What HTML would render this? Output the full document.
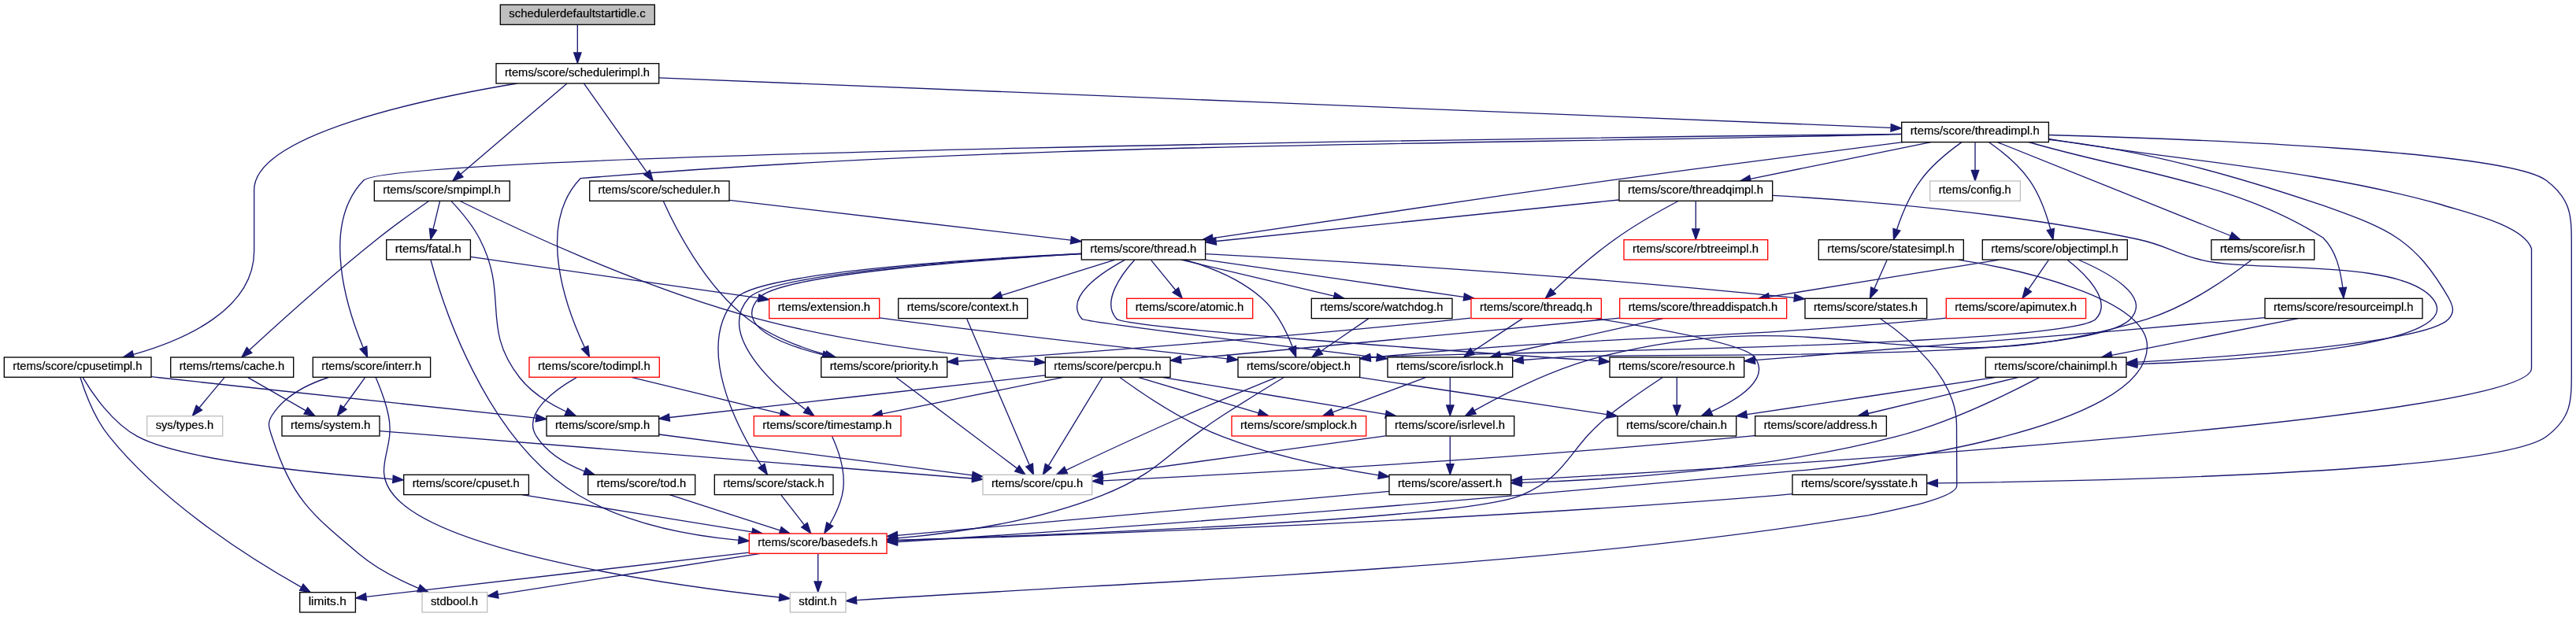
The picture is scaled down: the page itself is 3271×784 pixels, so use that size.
<!DOCTYPE html>
<html><head><meta charset="utf-8"><title>schedulerdefaultstartidle.c include graph</title>
<style>html,body{margin:0;padding:0;background:#fff}svg{display:block;will-change:transform}text{font-family:"Liberation Sans",sans-serif;font-size:13.8px;text-anchor:middle;fill:#000;stroke:#000;stroke-width:0.2px}.e path{fill:none;stroke:#191970;stroke-width:1.3333}.e polygon{fill:#191970;stroke:#191970;stroke-width:1.3333}.n rect{stroke-width:1.3333}</style></head>
<body>
<svg width="3271" height="784" viewBox="0 0 3271 784">
<rect x="0" y="0" width="3271" height="784" fill="#fff"/>
<g class="e">
<path d="M733.3,31.9C733.3,41.3 733.3,54.9 733.3,66.7"/><polygon points="738,67 733.3,80.3 728.7,67 738,67"/>
<path d="M741.5,106.2C758.7,130.4 798.8,186.9 821.3,218.7"/><polygon points="825.3,216.3 829.2,229.9 817.7,221.7 825.3,216.3"/>
<path d="M656.6,106C537.7,125.8 322.7,171.2 322.7,241.3 322.7,241.3 322.7,241.3 322.7,318.7 322.7,393 235.2,431.7 169.6,450.3"/><polygon points="170.4,454.9 156.3,453.9 168,445.9 170.4,454.9"/>
<path d="M719.8,106.2C690.7,131 621.6,190 585,221.2"/><polygon points="587.9,224.8 574.8,229.9 581.9,217.7 587.9,224.8"/>
<path d="M837,98.9C1150.1,111.6 2083.2,149.4 2400.8,162.3"/><polygon points="2401.3,157.7 2414.5,162.9 2400.9,167 2401.3,157.7"/>
<path d="M842.3,255.6C855.4,285.1 893.9,363.1 949.7,405.3 978.4,427.1 1015.6,441.3 1048.2,450.5"/><polygon points="1049.5,446 1061.2,453.9 1047.2,455 1049.5,446"/>
<path d="M926.1,254.4C1041.5,267.9 1242.3,291.4 1359.5,305.2"/><polygon points="1360.4,300.6 1373.1,306.8 1359.3,309.8 1360.4,300.6"/>
<path d="M1137.9,479.5C1171.1,504.5 1249.8,563.8 1291.1,594.9"/><polygon points="1294.3,591.5 1302.1,603.2 1288.7,598.9 1294.3,591.5"/>
<path d="M1373.1,322.7C1241.9,330.3 990.3,348.6 963.5,378.7 932.1,413.7 990.4,437.2 1045,450.8"/><polygon points="1046,446.3 1057.9,453.9 1043.9,455.4 1046,446.3"/>
<path d="M1461.7,330.6C1470.1,340.8 1482.4,356 1492.6,368.5"/><polygon points="1496.4,365.7 1501.2,379 1489.1,371.6 1496.4,365.7"/>
<path d="M1415.7,330.1C1376.7,342.3 1314.8,361.7 1271.6,375.3"/><polygon points="1273,379.8 1258.8,379.3 1270.2,370.9 1273,379.8"/>
<path d="M1428.6,330.1C1397.9,346.7 1350.3,378.2 1373.9,405.3 1376.9,408.8 1612.5,437.8 1748,454.1"/><polygon points="1748.9,449.5 1761.5,455.8 1747.7,458.8 1748.9,449.5"/>
<path d="M1504.4,330.1C1535.7,339 1574.6,354.2 1602.1,378.7 1620.9,395.3 1633.7,421.3 1641.1,440.5"/><polygon points="1645.5,439.5 1645.7,453.6 1636.7,442.7 1645.5,439.5"/>
<path d="M1440.7,330.2C1424.3,348.3 1398,383.5 1417.9,405.3 1428,416.5 1837.3,445.6 2030.4,458.7"/><polygon points="2030.9,454.1 2043.9,459.6 2030.3,463.4 2030.9,454.1"/>
<path d="M1372.8,322.1C1235.1,329 963.3,346.6 934.7,378.7 880.3,439.7 937,545.3 966.8,591.7"/><polygon points="970.9,589.4 974.4,603.1 963.1,594.6 970.9,589.4"/>
<path d="M1531.1,322.7C1676.5,330.5 1996.5,349.4 2278.4,378.4"/><polygon points="2278.9,373.8 2291.6,379.8 2277.9,383.1 2278.9,373.8"/>
<path d="M1531,330.1C1620,342.9 1764.5,363.8 1858.5,377.4"/><polygon points="1859.5,372.8 1872,379.3 1858.2,382 1859.5,372.8"/>
<path d="M1500,330.1C1552.4,342.6 1636.7,362.6 1693.7,376.2"/><polygon points="1695,371.7 1706.9,379.3 1692.9,380.8 1695,371.7"/>
<path d="M1373.1,322.5C1239,329.7 978.2,347.7 950.7,378.7 910.1,424.4 980.9,488.6 1022.9,520.5"/><polygon points="1025.9,516.9 1033.9,528.5 1020.4,524.4 1025.9,516.9"/>
<path d="M1227.7,405.2C1242.7,440.2 1286.8,543.3 1307,590.5"/><polygon points="1311.4,589.1 1312.4,603.2 1302.8,592.9 1311.4,589.1"/>
<path d="M1841.3,479.9C1841.3,489.3 1841.3,502.9 1841.3,514.7"/><polygon points="1846,515 1841.3,528.3 1836.7,515 1846,515"/>
<path d="M1810.9,479.4C1778.9,491.4 1728.2,510.4 1692.2,523.9"/><polygon points="1693.7,528.3 1679.6,528.6 1690.5,519.6 1693.7,528.3"/>
<path d="M1759.5,553.9C1661.6,567.4 1498.7,589.7 1400.4,603.3"/><polygon points="1400.8,607.9 1386.9,605.1 1399.5,598.7 1400.8,607.9"/>
<path d="M1841.3,554.6C1841.3,564 1841.3,577.5 1841.3,589.3"/><polygon points="1846,589.7 1841.3,603 1836.7,589.7 1846,589.7"/>
<path d="M1764,624.3C1618,637.4 1301.9,665.7 1139.5,680.3"/><polygon points="1140,684.9 1126.3,681.5 1139.2,675.6 1140,684.9"/>
<path d="M965.6,703.4C873.1,717.8 715.9,742.4 632.7,755.3"/><polygon points="633,760 619.1,757.5 631.5,750.8 633,760"/>
<path d="M1038.7,703.9C1038.7,713.3 1038.7,726.9 1038.7,738.7"/><polygon points="1043.3,739 1038.7,752.3 1034,739 1043.3,739"/>
<path d="M950.8,702.2C817.8,717.5 569.9,746.2 464.9,758.3"/><polygon points="465.5,763 451.7,759.9 464.4,753.7 465.5,763"/>
<path d="M1621.1,479.4C1591.9,491.3 1545.3,510.5 1505.3,528 1452.3,551.2 1391.6,579.5 1353.9,597.3"/><polygon points="1355.6,601.7 1341.5,603.2 1351.6,593.2 1355.6,601.7"/>
<path d="M1630.3,479.5C1610.6,491.5 1579.2,510.8 1552.4,528 1483.8,572 1475.5,599.5 1399.6,629.3 1315.7,662.4 1213.7,677.2 1139.5,683.9"/><polygon points="1139.7,688.6 1126.1,685.1 1138.9,679.3 1139.7,688.6"/>
<path d="M1725.4,479.4C1810.9,492.2 1949.5,513 2040.1,526.6"/><polygon points="2041.1,522.1 2053.6,528.6 2039.8,531.3 2041.1,522.1"/>
<path d="M2111.3,479.5C2093.5,491.1 2065.7,509.9 2043,528 1990.7,569.7 1993.3,603.1 1931.6,629.3 1860.4,659.6 1357.5,679.1 1139.3,686.3"/><polygon points="1139.5,690.9 1126,686.7 1139.2,681.6 1139.5,690.9"/>
<path d="M2129.3,479.9C2129.3,489.3 2129.3,502.9 2129.3,514.7"/><polygon points="2134,515 2129.3,528.3 2124.7,515 2134,515"/>
<path d="M991.9,629.2C999.9,639.5 1011.7,654.6 1021.4,667.1"/><polygon points="1025.1,664.3 1029.6,677.7 1017.7,670 1025.1,664.3"/>
<path d="M2387.8,405C2420.3,427 2484.3,478.3 2484.5,540 2484.5,540 2484.5,540 2484.8,617.3 2484,632 2420,645 2372.2,654.9 1952.7,723.2 1510.6,735 1087.2,762.7"/><polygon points="1087.2,758 1074.2,763.5 1087.8,767.3 1087.2,758"/>
<path d="M1867.4,404.1C1863.4,404.5 1859.6,404.9 1855.8,405.3 1626.4,429.2 1356.1,449.2 1216.6,459"/><polygon points="1216.6,463.7 1202.9,459.9 1215.9,454.3 1216.6,463.7"/>
<path d="M1933.1,404.9C1916.2,416 1890.4,433.1 1870.4,446.2"/><polygon points="1872.3,450.3 1858.6,453.8 1867.1,442.5 1872.3,450.3"/>
<path d="M2025.9,404.7C2103.5,417.2 2214.8,437.5 2227.5,453.3 2249.2,480.6 2208.7,506.6 2173.3,522.9"/><polygon points="2174.6,527.4 2160.5,528.5 2170.8,518.8 2174.6,527.4"/>
<path d="M1737.7,404.9C1721.5,416 1696.6,433.1 1677.3,446.2"/><polygon points="1679.6,450 1666,453.8 1674.3,442.4 1679.6,450"/>
<path d="M1056.6,554.5C1064.2,571.2 1075.7,602.7 1069.3,629.3 1066.3,642.1 1060,655.2 1053.9,665.9"/><polygon points="1057.7,668.6 1046.8,677.6 1049.7,663.8 1057.7,668.6"/>
<path d="M102,479.7C107.5,497.3 119.7,531.2 138.7,554.7 209.7,642.9 325.8,714.3 382.6,746.1"/><polygon points="385,742.1 394.4,752.7 380.5,750.3 385,742.1"/>
<path d="M105.3,479.9C116.7,499.2 141.9,536.9 174.7,554.7 228.9,584.1 392.9,600.8 498.4,608.8"/><polygon points="499.3,604.1 512.2,609.8 498.6,613.5 499.3,604.1"/>
<path d="M192.3,478.7C196.2,479.1 200.2,479.6 204,480 373,498.7 570.8,519.6 680.7,531.1"/><polygon points="681.2,526.5 694,532.5 680.2,535.8 681.2,526.5"/>
<path d="M662.8,628.7C742,641.5 870.3,662.2 954.6,675.8"/><polygon points="955.8,671.3 968.2,678 954.3,680.5 955.8,671.3"/>
<path d="M836.9,552C939.2,565.3 1126.6,589.8 1234.6,603.9"/><polygon points="1235.3,599.3 1247.9,605.6 1234,608.5 1235.3,599.3"/>
<path d="M572.8,255.4C583.6,266.8 599.7,285.3 609.3,304 646.7,376.3 609.7,416 660,480 675.1,499.2 698.1,513.3 718.8,523"/><polygon points="720.9,518.8 731.3,528.5 717.2,527.4 720.9,518.8"/>
<path d="M584.2,255.5C644.4,285.4 813.3,365.8 963,405.3 1081.8,436.7 1223.1,452.2 1313.8,459.5"/><polygon points="1314.4,454.8 1327.3,460.5 1313.7,464.1 1314.4,454.8"/>
<path d="M558.5,255.9C556.2,265.4 552.9,279.1 550,291.1"/><polygon points="554.5,292.5 546.8,304.3 545.4,290.3 554.5,292.5"/>
<path d="M544.5,255.5C527.6,267.3 500.8,286.3 478.7,304 418.4,352.1 351.1,413.1 317,444.5"/><polygon points="319.8,448.3 306.8,454 313.4,441.5 319.8,448.3"/>
<path d="M1399.7,479.5C1385,503.6 1350.8,559.8 1331.4,591.6"/><polygon points="1335.2,594.3 1324.3,603.2 1327.3,589.4 1335.2,594.3"/>
<path d="M1475.5,479.4C1552.6,492.2 1677.5,512.9 1759.5,526.4"/><polygon points="1760.4,521.9 1772.8,528.6 1758.9,531.1 1760.4,521.9"/>
<path d="M1421.9,479.5C1447.4,498.1 1501.1,534.9 1552,554.7 1616.1,579.6 1692.4,594.9 1750.6,603.8"/><polygon points="1751.3,599.2 1763.8,605.7 1749.9,608.4 1751.3,599.2"/>
<path d="M1445.1,479.4C1486.5,491.7 1552.4,511.3 1598.2,524.8"/><polygon points="1599.6,520.4 1611.1,528.6 1596.9,529.3 1599.6,520.4"/>
<path d="M1350.3,479.4C1287.9,492 1187.4,512.3 1120.2,525.9"/><polygon points="1121,530.6 1107,528.6 1119.2,521.4 1121,530.6"/>
<path d="M1327.4,476.9C1205.9,490.5 974.8,516.5 850.1,530.5"/><polygon points="850.5,535.2 836.7,532 849.4,525.9 850.5,535.2"/>
<path d="M547,330.5C559.7,378.3 614.3,558.2 734.7,629.3 796.1,665.7 875.6,680.5 937.9,686.3"/><polygon points="938.4,681.6 951.3,687.4 937.6,690.9 938.4,681.6"/>
<path d="M597.8,326.4C685.3,338.9 859.1,363.8 962.9,378.7"/><polygon points="963.9,374.1 976.4,380.6 962.6,383.3 963.9,374.1"/>
<path d="M1116.5,403.8C1120.3,404.3 1124.1,404.9 1127.8,405.3 1278.4,425.1 1454.1,444.6 1558.3,455.8"/><polygon points="1559,451.2 1571.7,457.2 1558,460.4 1559,451.2"/>
<path d="M314.8,479.6C334.5,490.9 364.9,508.4 388,521.6"/><polygon points="390.7,517.8 399.9,528.5 386,525.9 390.7,517.8"/>
<path d="M284.8,479.9C276.2,490.2 263.6,505.3 253.2,517.8"/><polygon points="256.5,521.1 244.4,528.3 249.3,515.1 256.5,521.1"/>
<path d="M482,547.6C639.8,560.3 1056.3,593.7 1234.6,608"/><polygon points="1235,603.4 1247.9,609.1 1234.2,612.7 1235,603.4"/>
<path d="M2416.2,180.7C2322.4,192.5 2172.6,211.5 2043.2,229.3 1864.3,254 1655.3,285.2 1539.9,302.6"/><polygon points="1540.6,307.3 1526.7,304.6 1539.2,298 1540.6,307.3"/>
<path d="M2601.2,176.3C2767.9,205 2936.6,214 3100,260 3122.5,268.1 3204.2,284.9 3214.5,316 3214.5,316 3214.5,316 3214.5,468 3214.5,532.7 2239.8,592.5 1932.8,609.7"/><polygon points="1932.7,614.4 1919.1,610.5 1932.2,605.1 1932.7,614.4"/>
<path d="M2601.2,177.4C2722,190.4 2835.1,222.4 2950,261.2 3034.5,291.2 3066,304 3109.4,378.7 3115,389.1 3117.2,396.5 3109.3,405.3 3083.6,434.4 2852.4,452 2714,460.1"/><polygon points="2714.1,464.8 2700.5,460.9 2713.5,455.5 2714.1,464.8"/>
<path d="M2414.5,170.3C2018.1,174.7 495.9,193.9 461.6,229.3 406.2,286.7 441.2,393.4 461,441.2"/><polygon points="465.7,439.9 466.6,454 457.1,443.6 465.7,439.9"/>
<path d="M2536.7,180.8C2601.1,206.7 2757.5,269.5 2832.3,299.5"/><polygon points="2834.2,295.2 2844.8,304.5 2830.7,303.9 2834.2,295.2"/>
<path d="M2525.6,180.7C2541.1,191.6 2563.4,209.2 2577.3,229.3 2590.4,248.3 2598.9,273.2 2603.8,291.5"/><polygon points="2608.4,290.4 2607,304.5 2599.3,292.7 2608.4,290.4"/>
<path d="M2576,180.5C2700.7,217.6 2840.1,230.9 2950,302.3 2966.7,319.2 2971.6,342.6 2974.8,365.1"/><polygon points="2979.5,365.2 2975.9,378.8 2970.2,365.9 2979.5,365.2"/>
<path d="M2490.7,180.9C2475.3,191.9 2453.1,209.6 2438.7,229.3 2424.8,248.3 2414.7,273.3 2408.6,291.5"/><polygon points="2412.9,293.2 2404.5,304.5 2404,290.4 2412.9,293.2"/>
<path d="M2601.4,171.5C2786.1,176.6 3184.1,191.9 3233.3,229.3 3266,254.2 3265.3,274.9 3265.3,316 3265.3,316 3265.3,316 3265.3,468 3265.3,509.1 3266.2,530.1 3233.3,554.7 3172.7,600.1 2676.4,611.1 2460.8,613.8"/><polygon points="2460.4,618.5 2447,614 2460.3,609.2 2460.4,618.5"/>
<path d="M2451.8,180.7C2389.7,193.4 2289.5,213.7 2222.6,227.3"/><polygon points="2223.5,231.9 2209.5,230 2221.6,222.8 2223.5,231.9"/>
<path d="M2414.6,170.5C1855.3,184.7 1294.9,180 737,226.7 679.6,286.9 719.9,393.5 742.3,441.2"/><polygon points="746.8,439.4 748.4,453.5 738.4,443.5 746.8,439.4"/>
<path d="M2508,181.2C2508,190.7 2508,204.2 2508,216"/><polygon points="2512.7,216.3 2508,229.7 2503.3,216.3 2512.7,216.3"/>
<path d="M2589.5,479.6C2553.5,498.7 2477.3,536.6 2408,554.7 2243.8,597.4 2045.2,609.8 1932.1,613.3"/><polygon points="1932.2,618 1918.7,613.7 1931.9,608.7 1932.2,618"/>
<path d="M2534.4,479.4C2448.5,492.3 2309.2,513.1 2218.4,526.7"/><polygon points="2218.7,531.3 2204.9,528.7 2217.3,522.1 2218.7,531.3"/>
<path d="M2563.3,479.4C2511.6,491.9 2428.5,511.9 2372.1,525.5"/><polygon points="2373.2,530.1 2359.1,528.6 2371,521 2373.2,530.1"/>
<path d="M2228.4,553.5C2224.7,553.9 2221,554.3 2217.3,554.7 1917.1,583.7 1559.1,603 1400.3,610.8"/><polygon points="1400.4,615.5 1386.9,611.4 1400,606.1 1400.4,615.5"/>
<path d="M417.3,479.5C390.7,488.1 361.2,502.9 345.3,528 339,538 341.6,543.4 345.3,554.7 371.2,633.1 392.6,651 456,704 478.2,722.6 507.1,737.2 531.2,747.3"/><polygon points="533.4,743.1 544,752.5 529.9,751.8 533.4,743.1"/>
<path d="M477.2,479.7C482.3,491.6 489.8,510.7 493.3,528 502.5,572.2 471.1,594.7 500,629.3 563.1,705 868.9,745.7 989.5,759"/><polygon points="990.2,754.4 1003,760.5 989.2,763.7 990.2,754.4"/>
<path d="M463.4,479.9C456.1,490.1 445.3,505 436.3,517.4"/><polygon points="440,520.3 428.4,528.3 432.5,514.8 440,520.3"/>
<path d="M2859,330.3C2834,349.8 2779.8,388.8 2726.7,405.3 2431.1,497.2 2332,377.4 2032,453.3 1972.7,468.3 1909,501 1872.3,521.7"/><polygon points="1874.4,525.9 1860.5,528.5 1869.8,517.8 1874.4,525.9"/>
<path d="M2638.9,330C2676.2,346 2732.5,376.3 2705.3,405.3 2650.8,463.7 2067.7,447.4 1988,453.3 1970.6,454.6 1952.1,456.1 1934.3,457.5"/><polygon points="1934.5,462.2 1920.9,458.6 1933.8,452.9 1934.5,462.2"/>
<path d="M2625,330.1C2647.4,347.8 2683.4,382 2661.3,405.3 2626.5,442.1 1801.1,449 1750.7,453.3 1747.3,453.6 1743.8,453.9 1740.3,454.3"/><polygon points="1740.5,458.9 1726.7,455.6 1739.5,449.7 1740.5,458.9"/>
<path d="M2601.2,330.6C2594.3,340.6 2584.2,355.3 2575.7,367.7"/><polygon points="2579.4,370.6 2568,379 2571.7,365.4 2579.4,370.6"/>
<path d="M2538.6,330.1C2459.3,342.8 2331,363.5 2246.8,377.1"/><polygon points="2247,381.8 2233.1,379.3 2245.5,372.6 2247,381.8"/>
<path d="M2471.1,404.1C2466.9,404.5 2462.7,405 2458.7,405.3 2144.6,434.6 2064.7,424.1 1750.7,453.3 1747.3,453.7 1743.8,454 1740.3,454.3"/><polygon points="1740.5,459 1726.7,455.8 1739.5,449.7 1740.5,459"/>
<path d="M2111.7,404.7C2055.8,417.3 1965.9,437.4 1905.2,451"/><polygon points="1906,455.6 1892,454 1904,446.5 1906,455.6"/>
<path d="M2056.6,404.1C2052.3,404.5 2048.1,404.9 2044,405.3 1850.5,424.2 1623.8,445.3 1499.7,456.8"/><polygon points="1499.9,461.5 1486.2,458 1499,452.2 1499.9,461.5"/>
<path d="M2875.7,403.6C2869.5,404.2 2863.3,404.8 2857.3,405.3 2632.8,425.9 2368.9,446.9 2228.7,457.7"/><polygon points="2228.8,462.4 2215.1,458.8 2228,453.1 2228.8,462.4"/>
<path d="M2918.1,404.7C2854,417.4 2750.5,437.8 2681.6,451.4"/><polygon points="2682.3,456 2668.3,454 2680.5,446.8 2682.3,456"/>
<path d="M2486.9,330.1C2560,341.5 2726.5,378 2726.5,440 2726.5,546.8 2370.6,590.3 2300,596.6 1912.9,631.4 1528.3,664.5 1139.8,688.5"/><polygon points="1139.6,693.2 1126.2,688.7 1139.5,683.8 1139.6,693.2"/>
<path d="M2396.1,330.6C2391.7,340.3 2385.4,354.4 2380.1,366.5"/><polygon points="2384.2,368.7 2374.5,379 2375.7,364.9 2384.2,368.7"/>
<path d="M2275.9,627.7C2269.7,628.3 2263.5,628.8 2257.6,629.3 1843.5,663.4 1348.2,680.5 1139.4,686.6"/><polygon points="1139.5,691.3 1126.1,687 1139.3,682 1139.5,691.3"/>
<path d="M2055.8,254C1920.4,267.9 1677.2,292.9 1544.5,306.5"/><polygon points="1544.6,311.2 1530.8,307.9 1543.6,301.9 1544.6,311.2"/>
<path d="M2131,255.5C2109.7,266.8 2077,285.1 2050.7,304 2022,324.5 1991.7,351.6 1972.1,370"/><polygon points="1975.3,373.4 1962.4,379.2 1968.9,366.7 1975.3,373.4"/>
<path d="M2251.1,248.4C2363.8,254.8 2554.2,269.9 2714.3,304 2752,312 2759.3,321.6 2796.8,330.7 2860.6,346.1 3046.3,328.5 3088.5,378.7 3138.4,437.8 2869.1,456.7 2714.1,462.7"/><polygon points="2713.9,467.3 2700.4,463.2 2713.6,458 2713.9,467.3"/>
<path d="M2153.3,255.9C2153.3,265.3 2153.3,278.9 2153.3,290.7"/><polygon points="2158,291 2153.3,304.3 2148.7,291 2158,291"/>
<path d="M801.6,479.4C852.8,491.9 934.9,511.8 990.7,525.4"/><polygon points="992.1,521 1004,528.6 989.9,530 992.1,521"/>
<path d="M732.1,479.6C704.2,495.5 662.5,525.5 681.3,554.7 695.2,576.1 718.7,589.9 742.1,598.8"/><polygon points="744,594.5 755.1,603.3 740.9,603.4 744,594.5"/>
<path d="M850.2,628.7C888,640.9 948.2,660.3 990.3,673.8"/><polygon points="992.1,669.5 1003.3,678 989.2,678.3 992.1,669.5"/>
</g>
<g class="n">
<rect x="635.3" y="6" width="196" height="25.3" fill="#bfbfbf" stroke="#000"/><text x="733" y="22" textLength="173.5" lengthAdjust="spacingAndGlyphs">schedulerdefaultstartidle.c</text>
<rect x="630" y="80.7" width="206.7" height="25.3" fill="#fff" stroke="#000"/><text x="733" y="96.7" textLength="184.1" lengthAdjust="spacingAndGlyphs">rtems/score/schedulerimpl.h</text>
<rect x="748.7" y="230" width="177.3" height="25.3" fill="#fff" stroke="#000"/><text x="837" y="246" textLength="154.8" lengthAdjust="spacingAndGlyphs">rtems/score/scheduler.h</text>
<rect x="5.3" y="454" width="186.7" height="25.3" fill="#fff" stroke="#000"/><text x="98.4" y="470" textLength="164.1" lengthAdjust="spacingAndGlyphs">rtems/score/cpusetimpl.h</text>
<rect x="475.3" y="230" width="172" height="25.3" fill="#fff" stroke="#000"/><text x="561" y="246" textLength="149.5" lengthAdjust="spacingAndGlyphs">rtems/score/smpimpl.h</text>
<rect x="2414.7" y="155.3" width="186.7" height="25.3" fill="#fff" stroke="#000"/><text x="2507.7" y="171.3" textLength="164.1" lengthAdjust="spacingAndGlyphs">rtems/score/threadimpl.h</text>
<rect x="1042.7" y="454" width="160" height="25.3" fill="#fff" stroke="#000"/><text x="1122.4" y="470" textLength="137.5" lengthAdjust="spacingAndGlyphs">rtems/score/priority.h</text>
<rect x="1373.3" y="304.7" width="157.3" height="25.3" fill="#fff" stroke="#000"/><text x="1451.7" y="320.7" textLength="134.8" lengthAdjust="spacingAndGlyphs">rtems/score/thread.h</text>
<rect x="1248" y="603.3" width="138.7" height="25.3" fill="#fff" stroke="#bfbfbf"/><text x="1317" y="619.3" textLength="116.1" lengthAdjust="spacingAndGlyphs">rtems/score/cpu.h</text>
<rect x="1430.7" y="379.3" width="160" height="25.3" fill="#fff" stroke="#f00"/><text x="1510.4" y="395.3" textLength="137.5" lengthAdjust="spacingAndGlyphs">rtems/score/atomic.h</text>
<rect x="1140.7" y="379.3" width="164" height="25.3" fill="#fff" stroke="#000"/><text x="1222.4" y="395.3" textLength="141.5" lengthAdjust="spacingAndGlyphs">rtems/score/context.h</text>
<rect x="1762" y="454" width="158.7" height="25.3" fill="#fff" stroke="#000"/><text x="1841" y="470" textLength="136.1" lengthAdjust="spacingAndGlyphs">rtems/score/isrlock.h</text>
<rect x="1572" y="454" width="154.7" height="25.3" fill="#fff" stroke="#000"/><text x="1649" y="470" textLength="132.1" lengthAdjust="spacingAndGlyphs">rtems/score/object.h</text>
<rect x="2044" y="454" width="170.7" height="25.3" fill="#fff" stroke="#000"/><text x="2129" y="470" textLength="148.1" lengthAdjust="spacingAndGlyphs">rtems/score/resource.h</text>
<rect x="907.3" y="603.3" width="150.7" height="25.3" fill="#fff" stroke="#000"/><text x="982.4" y="619.3" textLength="128.1" lengthAdjust="spacingAndGlyphs">rtems/score/stack.h</text>
<rect x="2292" y="379.3" width="154.7" height="25.3" fill="#fff" stroke="#000"/><text x="2369" y="395.3" textLength="132.1" lengthAdjust="spacingAndGlyphs">rtems/score/states.h</text>
<rect x="1868" y="379.3" width="165.3" height="25.3" fill="#fff" stroke="#f00"/><text x="1950.4" y="395.3" textLength="142.8" lengthAdjust="spacingAndGlyphs">rtems/score/threadq.h</text>
<rect x="1665.3" y="379.3" width="178.7" height="25.3" fill="#fff" stroke="#000"/><text x="1754.4" y="395.3" textLength="156.1" lengthAdjust="spacingAndGlyphs">rtems/score/watchdog.h</text>
<rect x="957.3" y="528.7" width="186.7" height="25.3" fill="#fff" stroke="#f00"/><text x="1050.4" y="544.7" textLength="164.1" lengthAdjust="spacingAndGlyphs">rtems/score/timestamp.h</text>
<rect x="1760" y="528.7" width="162.7" height="25.3" fill="#fff" stroke="#000"/><text x="1841" y="544.7" textLength="140.1" lengthAdjust="spacingAndGlyphs">rtems/score/isrlevel.h</text>
<rect x="1564" y="528.7" width="170.7" height="25.3" fill="#fff" stroke="#f00"/><text x="1649" y="544.7" textLength="148.1" lengthAdjust="spacingAndGlyphs">rtems/score/smplock.h</text>
<rect x="1764" y="603.3" width="154.7" height="25.3" fill="#fff" stroke="#000"/><text x="1841" y="619.3" textLength="132.1" lengthAdjust="spacingAndGlyphs">rtems/score/assert.h</text>
<rect x="951.3" y="678" width="174.7" height="25.3" fill="#fff" stroke="#f00"/><text x="1038.4" y="694" textLength="152.1" lengthAdjust="spacingAndGlyphs">rtems/score/basedefs.h</text>
<rect x="536" y="752.7" width="82.7" height="25.3" fill="#fff" stroke="#bfbfbf"/><text x="577" y="768.7" textLength="60.1" lengthAdjust="spacingAndGlyphs">stdbool.h</text>
<rect x="1003.3" y="752.7" width="70.7" height="25.3" fill="#fff" stroke="#bfbfbf"/><text x="1038.4" y="768.7" textLength="48.1" lengthAdjust="spacingAndGlyphs">stdint.h</text>
<rect x="380.7" y="752.7" width="70.7" height="25.3" fill="#fff" stroke="#000"/><text x="415.7" y="768.7" textLength="48.1" lengthAdjust="spacingAndGlyphs">limits.h</text>
<rect x="2054" y="528.7" width="150.7" height="25.3" fill="#fff" stroke="#000"/><text x="2129" y="544.7" textLength="128.1" lengthAdjust="spacingAndGlyphs">rtems/score/chain.h</text>
<rect x="512.7" y="603.3" width="158.7" height="25.3" fill="#fff" stroke="#000"/><text x="591.7" y="619.3" textLength="136.1" lengthAdjust="spacingAndGlyphs">rtems/score/cpuset.h</text>
<rect x="694" y="528.7" width="142.7" height="25.3" fill="#fff" stroke="#000"/><text x="765" y="544.7" textLength="120.1" lengthAdjust="spacingAndGlyphs">rtems/score/smp.h</text>
<rect x="1327.3" y="454" width="158.7" height="25.3" fill="#fff" stroke="#000"/><text x="1406.4" y="470" textLength="136.1" lengthAdjust="spacingAndGlyphs">rtems/score/percpu.h</text>
<rect x="490.7" y="304.7" width="106.7" height="25.3" fill="#fff" stroke="#000"/><text x="543.7" y="320.7" textLength="84.1" lengthAdjust="spacingAndGlyphs">rtems/fatal.h</text>
<rect x="216.7" y="454" width="156" height="25.3" fill="#fff" stroke="#000"/><text x="294.4" y="470" textLength="133.5" lengthAdjust="spacingAndGlyphs">rtems/rtems/cache.h</text>
<rect x="976.7" y="379.3" width="140" height="25.3" fill="#fff" stroke="#f00"/><text x="1046.4" y="395.3" textLength="117.5" lengthAdjust="spacingAndGlyphs">rtems/extension.h</text>
<rect x="358" y="528.7" width="124" height="25.3" fill="#fff" stroke="#000"/><text x="419.7" y="544.7" textLength="101.5" lengthAdjust="spacingAndGlyphs">rtems/system.h</text>
<rect x="186.7" y="528.7" width="96" height="25.3" fill="#fff" stroke="#bfbfbf"/><text x="234.4" y="544.7" textLength="73.5" lengthAdjust="spacingAndGlyphs">sys/types.h</text>
<rect x="2521.3" y="454" width="178.7" height="25.3" fill="#fff" stroke="#000"/><text x="2610.4" y="470" textLength="156.1" lengthAdjust="spacingAndGlyphs">rtems/score/chainimpl.h</text>
<rect x="397.3" y="454" width="149.3" height="25.3" fill="#fff" stroke="#000"/><text x="471.7" y="470" textLength="126.8" lengthAdjust="spacingAndGlyphs">rtems/score/interr.h</text>
<rect x="2808" y="304.7" width="130.7" height="25.3" fill="#fff" stroke="#000"/><text x="2873" y="320.7" textLength="108.1" lengthAdjust="spacingAndGlyphs">rtems/score/isr.h</text>
<rect x="2517.3" y="304.7" width="184" height="25.3" fill="#fff" stroke="#000"/><text x="2609" y="320.7" textLength="161.5" lengthAdjust="spacingAndGlyphs">rtems/score/objectimpl.h</text>
<rect x="2876" y="379.3" width="200" height="25.3" fill="#fff" stroke="#000"/><text x="2975.7" y="395.3" textLength="177.5" lengthAdjust="spacingAndGlyphs">rtems/score/resourceimpl.h</text>
<rect x="2309.3" y="304.7" width="184" height="25.3" fill="#fff" stroke="#000"/><text x="2401" y="320.7" textLength="161.5" lengthAdjust="spacingAndGlyphs">rtems/score/statesimpl.h</text>
<rect x="2276" y="603.3" width="170.7" height="25.3" fill="#fff" stroke="#000"/><text x="2361" y="619.3" textLength="148.1" lengthAdjust="spacingAndGlyphs">rtems/score/sysstate.h</text>
<rect x="2056" y="230" width="194.7" height="25.3" fill="#fff" stroke="#000"/><text x="2153" y="246" textLength="172.1" lengthAdjust="spacingAndGlyphs">rtems/score/threadqimpl.h</text>
<rect x="672" y="454" width="165.3" height="25.3" fill="#fff" stroke="#f00"/><text x="754.4" y="470" textLength="142.8" lengthAdjust="spacingAndGlyphs">rtems/score/todimpl.h</text>
<rect x="2450.7" y="230" width="114.7" height="25.3" fill="#fff" stroke="#bfbfbf"/><text x="2507.7" y="246" textLength="92.1" lengthAdjust="spacingAndGlyphs">rtems/config.h</text>
<rect x="2228.7" y="528.7" width="166.7" height="25.3" fill="#fff" stroke="#000"/><text x="2311.7" y="544.7" textLength="144.1" lengthAdjust="spacingAndGlyphs">rtems/score/address.h</text>
<rect x="2471.3" y="379.3" width="177.3" height="25.3" fill="#fff" stroke="#f00"/><text x="2559.7" y="395.3" textLength="154.8" lengthAdjust="spacingAndGlyphs">rtems/score/apimutex.h</text>
<rect x="2056.7" y="379.3" width="212" height="25.3" fill="#fff" stroke="#f00"/><text x="2162.4" y="395.3" textLength="189.5" lengthAdjust="spacingAndGlyphs">rtems/score/threaddispatch.h</text>
<rect x="2062" y="304.7" width="182.7" height="25.3" fill="#fff" stroke="#f00"/><text x="2153" y="320.7" textLength="160.1" lengthAdjust="spacingAndGlyphs">rtems/score/rbtreeimpl.h</text>
<rect x="746.7" y="603.3" width="136" height="25.3" fill="#fff" stroke="#000"/><text x="814.4" y="619.3" textLength="113.5" lengthAdjust="spacingAndGlyphs">rtems/score/tod.h</text>
</g></svg></body></html>
